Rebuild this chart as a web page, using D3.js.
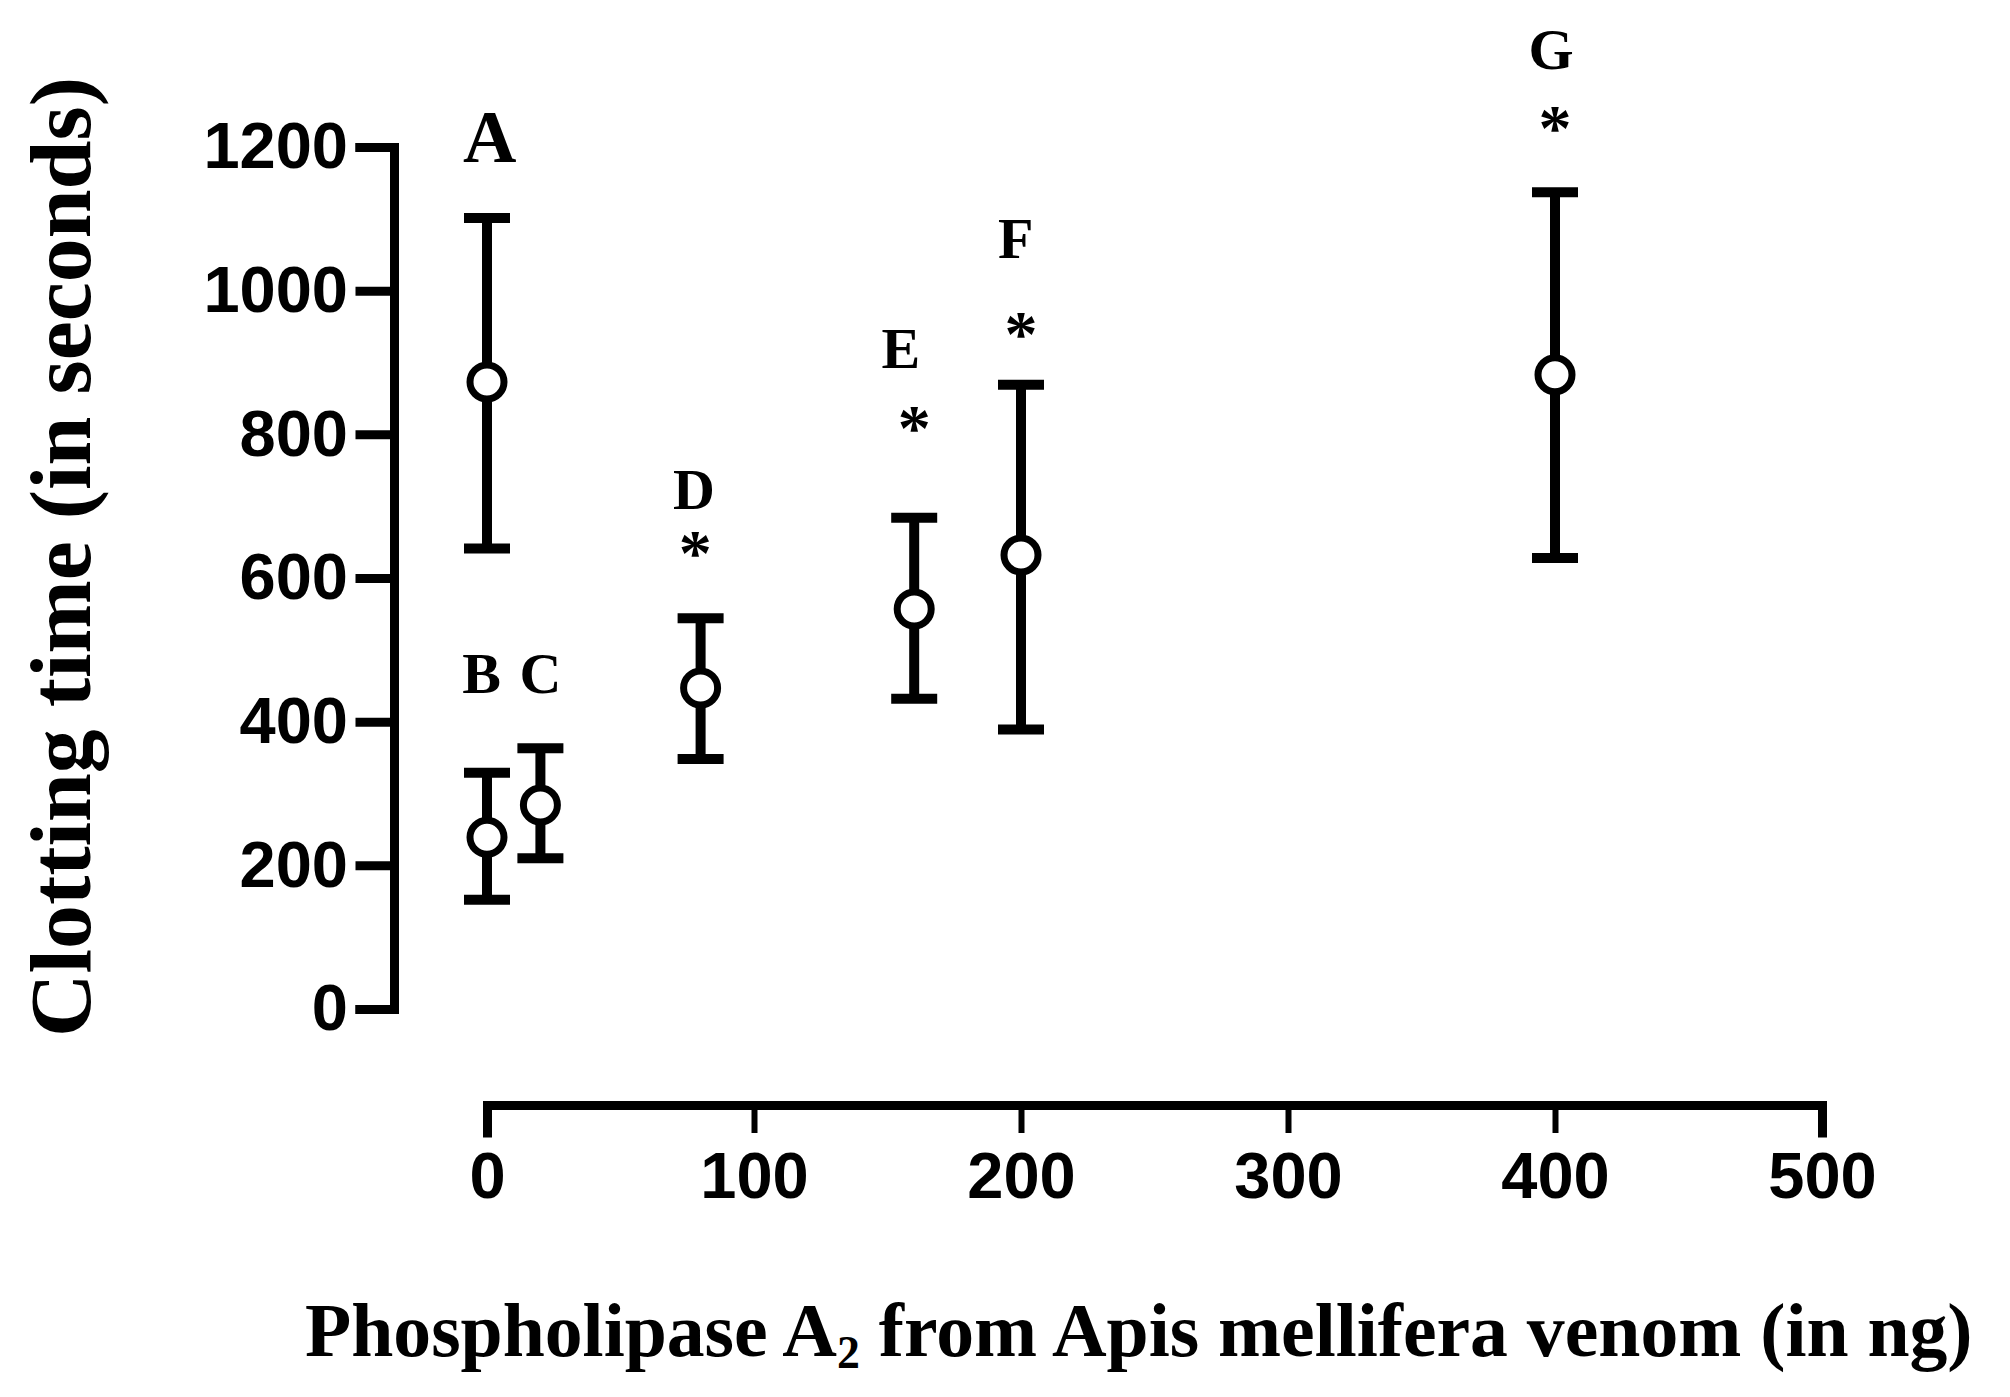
<!DOCTYPE html>
<html lang="en">
<head>
	<meta charset="utf-8">
	<title>Clotting time vs Phospholipase A2</title>
	<script src="https://d3js.org/d3.v7.min.js" charset="utf-8"></script>
	<style>
		body {
			margin: 0;
			background: #ffffff;
		}
		.tick text {
			font-family: "Liberation Sans", Arial, sans-serif;
			font-weight: bold;
			font-size: 65px;
			fill: #000;
		}
		.serif {
			font-family: "Liberation Serif", "Times New Roman", serif;
			font-weight: bold;
			fill: #000;
		}
	</style>
</head>
<body>
	<script>
	// chart values
	var groups = [ "A", "B", "C", "D", "E", "F", "G" ];
	var doses = [ 0, 0, 20, 80, 160, 200, 400 ];
	var means = [ 873, 239, 284, 447, 557, 632, 883 ];
	var upper = [ 1101, 329, 363, 544, 684, 869, 1137 ];
	var lower = [ 641, 152, 210, 348, 432, 389, 628 ];
	var starred = [ false, false, false, true, true, true, true ];

	var xTicks = [ 0, 100, 200, 300, 400, 500 ];
	var yTicks = [ 0, 200, 400, 600, 800, 1000, 1200 ];

	// where the letters and stars sit, in data units (dose, seconds)
	var letterAt = [ [1, 1179], [-2, 440], [20, 440], [77.5, 696], [155, 892], [198, 1045], [398.5, 1309] ];
	var starAt = [ null, null, null, [78, 647], [160, 821], [200, 952], [400, 1239] ];

	var width = 2010;
	var height = 1397;

	var svg = d3.select( "body" )
		.append( "svg" )
		.attr( "width", width )
		.attr( "height", height );

	svg.append( "rect" )
		.attr( "width", width )
		.attr( "height", height )
		.attr( "fill", "#fff" );

	var x = d3.scaleLinear().domain( [0, 500] ).range( [487, 1822] );
	var y = d3.scaleLinear().domain( [0, 1200] ).range( [1009, 147] );

	// y axis
	var yAxis = svg.append( "g" )
		.attr( "transform", "translate(394,0)" )
		.call( d3.axisLeft( y ).tickValues( yTicks ).tickFormat( d3.format( "d" ) )
			.tickSize( 34 ).tickSizeOuter( 34 ).tickPadding( 12 ) );

	// x axis (offset below the plot)
	var xAxis = svg.append( "g" )
		.attr( "transform", "translate(0,1105)" )
		.call( d3.axisBottom( x ).tickValues( xTicks ).tickFormat( d3.format( "d" ) )
			.tickSize( 28 ).tickSizeOuter( 28 ).tickPadding( 19 ) );

	svg.selectAll( ".domain, .tick line" )
		.attr( "stroke", "#000" )
		.attr( "stroke-width", 9 )
		.attr( "stroke-linecap", "square" );
	xAxis.selectAll( ".tick line" ).attr( "stroke-width", 6 ).attr( "stroke-linecap", "butt" );
	svg.selectAll( ".tick text" ).attr( "fill", "#000" );

	// error bars
	var idx = d3.range( groups.length );
	var capW = 23;

	var bars = svg.append( "g" )
		.attr( "stroke", "#000" )
		.attr( "stroke-width", 10 );

	bars.selectAll( ".stem" )
		.data( idx )
		.enter()
		.append( "line" )
		.attr( "x1", function(i){ return x( doses[i] ); } )
		.attr( "x2", function(i){ return x( doses[i] ); } )
		.attr( "y1", function(i){ return y( lower[i] ); } )
		.attr( "y2", function(i){ return y( upper[i] ); } );

	bars.selectAll( ".capTop" )
		.data( idx )
		.enter()
		.append( "line" )
		.attr( "x1", function(i){ return x( doses[i] ) - capW; } )
		.attr( "x2", function(i){ return x( doses[i] ) + capW; } )
		.attr( "y1", function(i){ return y( upper[i] ); } )
		.attr( "y2", function(i){ return y( upper[i] ); } );

	bars.selectAll( ".capBot" )
		.data( idx )
		.enter()
		.append( "line" )
		.attr( "x1", function(i){ return x( doses[i] ) - capW; } )
		.attr( "x2", function(i){ return x( doses[i] ) + capW; } )
		.attr( "y1", function(i){ return y( lower[i] ); } )
		.attr( "y2", function(i){ return y( lower[i] ); } );

	// mean markers
	svg.append( "g" )
		.selectAll( "circle" )
		.data( idx )
		.enter()
		.append( "circle" )
		.attr( "cx", function(i){ return x( doses[i] ); } )
		.attr( "cy", function(i){ return y( means[i] ); } )
		.attr( "r", 17 )
		.attr( "fill", "#fff" )
		.attr( "stroke", "#000" )
		.attr( "stroke-width", 7 );

	// group letters
	svg.append( "g" )
		.selectAll( "text" )
		.data( idx )
		.enter()
		.append( "text" )
		.attr( "class", "serif" )
		.attr( "text-anchor", "middle" )
		.attr( "font-size", function(i){ return i == 0 ? 74 : 58; } )
		.attr( "x", function(i){ return x( letterAt[i][0] ); } )
		.attr( "y", function(i){ return y( letterAt[i][1] ); } )
		.text( function(i){ return groups[i]; } );

	// significance stars
	svg.append( "g" )
		.selectAll( "text" )
		.data( idx.filter( function(i){ return starred[i]; } ) )
		.enter()
		.append( "text" )
		.attr( "class", "serif" )
		.attr( "text-anchor", "middle" )
		.attr( "font-size", 66 )
		.attr( "x", function(i){ return x( starAt[i][0] ); } )
		.attr( "y", function(i){ return y( starAt[i][1] ); } )
		.attr( "dy", "0.47em" )
		.text( "*" );

	// axis titles
	var yTitle = svg.append( "text" )
		.attr( "class", "serif" )
		.attr( "font-size", 86 )
		.attr( "text-anchor", "middle" )
		.attr( "transform", "translate(90,557) rotate(-90)" )
		.attr( "textLength", 960 )
		.attr( "lengthAdjust", "spacingAndGlyphs" )
		.text( "Clotting time (in seconds)" );

	var xTitle = svg.append( "text" )
		.attr( "class", "serif" )
		.attr( "font-size", 76 )
		.attr( "x", 0 )
		.attr( "y", 0 );
	xTitle.append( "tspan" ).text( "Phospholipase A" );
	xTitle.append( "tspan" ).attr( "font-size", 46 ).attr( "dy", 12 ).text( "2" );
	xTitle.append( "tspan" ).attr( "dy", -12 ).text( " from Apis mellifera venom (in ng)" );

	// stretch the title to the span it has in the figure
	var w = xTitle.node().getBBox().width;
	xTitle.attr( "transform", "translate(305,1356) scale(" + ( 1668 / w ) + ",1)" );
	</script>
</body>
</html>
